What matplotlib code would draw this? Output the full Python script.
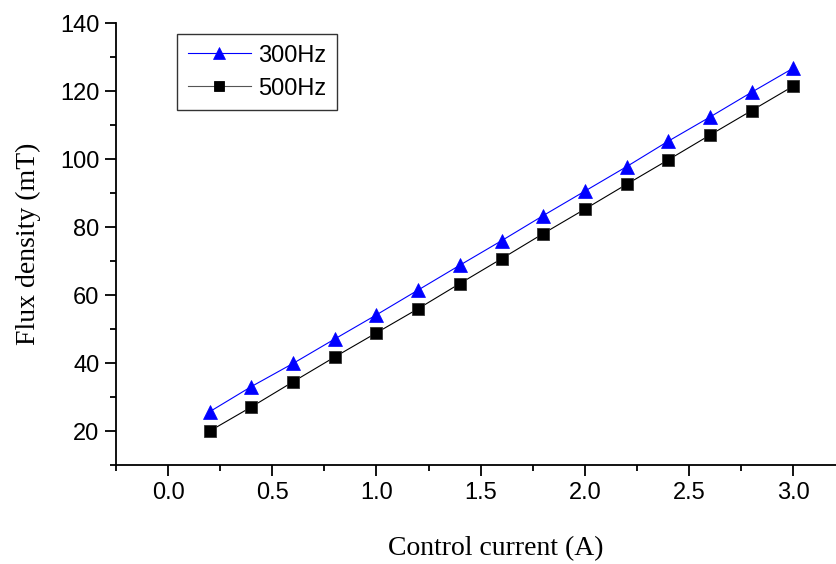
import matplotlib
matplotlib.use("Agg")
import matplotlib.pyplot as plt
from matplotlib.ticker import MultipleLocator

current = [0.2, 0.4, 0.6, 0.8, 1.0, 1.2, 1.4, 1.6, 1.8, 2.0, 2.2, 2.4, 2.6, 2.8, 3.0]
flux_300hz = [25.7, 33.1, 39.9, 47.1, 54.2, 61.5, 68.8, 76.0, 83.4, 90.6, 97.8, 105.3, 112.4, 119.7, 126.8]
flux_500hz = [20.0, 27.1, 34.5, 41.8, 48.9, 56.0, 63.4, 70.7, 78.1, 85.3, 92.6, 99.8, 107.1, 114.3, 121.5]

W, H = 837, 564
fig = plt.figure(figsize=(W / 100, H / 100), dpi=100)
ax = fig.add_axes([116 / W, 1 - 465 / H, 1 - 116 / W, (465 - 23.3) / H])

ax.plot(current, flux_300hz, color="#0000ff", lw=0.8, marker="^", ms=9.6,
        mfc="#0000ff", mec="#0000ff", mew=0.5, label="300Hz")
ax.plot(current, flux_500hz, color="black", lw=0.8, marker="s", ms=8.0,
        mfc="black", mec="#333333", mew=0.6, label="500Hz")

ax.set_xlim(-0.25, 3.21)
ax.set_ylim(10, 140)
ax.xaxis.set_minor_locator(MultipleLocator(0.25))
ax.yaxis.set_minor_locator(MultipleLocator(10))
ax.set_yticks([20, 40, 60, 80, 100, 120, 140])
ax.set_xticks([0.0, 0.5, 1.0, 1.5, 2.0, 2.5, 3.0])
ax.set_xticklabels(["0.0", "0.5", "1.0", "1.5", "2.0", "2.5", "3.0"])

for s in ["top", "right"]:
    ax.spines[s].set_visible(False)
for s in ["left", "bottom"]:
    ax.spines[s].set_linewidth(1.3)

ax.tick_params(which="major", direction="out", length=8, width=1.3,
               labelsize=17, pad=4)
ax.tick_params(which="minor", direction="out", length=4.5, width=1.3)
for lab in ax.get_xticklabels() + ax.get_yticklabels():
    lab.set_family("Liberation Sans")

ax.set_xlabel("Control current (A)", family="Liberation Serif", fontsize=20)
ax.xaxis.set_label_coords((496 - 116) / (W - 116), -(549 - 465) / (465 - 23.3), transform=ax.transAxes)
ax.xaxis.label.set_va("center")
ax.set_ylabel("Flux density (mT)", family="Liberation Serif", fontsize=20, labelpad=14)

leg = fig.legend(loc="upper left", bbox_to_anchor=(177 / W, 1 - 34 / H),
                 prop={"family": "Liberation Sans", "size": 17},
                 frameon=True, fancybox=False, shadow=False, markerscale=0.88,
                 handlelength=2.7, handletextpad=0.3, borderpad=0.45,
                 labelspacing=0.47, borderaxespad=0)
leg.get_frame().set_edgecolor("black")
leg.get_frame().set_linewidth(1.0)
leg.legend_handles[1].set_color("#555555")
leg.legend_handles[1].set_markerfacecolor("black")
leg.legend_handles[1].set_markeredgecolor("black")

fig.savefig("out.png", dpi=100)
